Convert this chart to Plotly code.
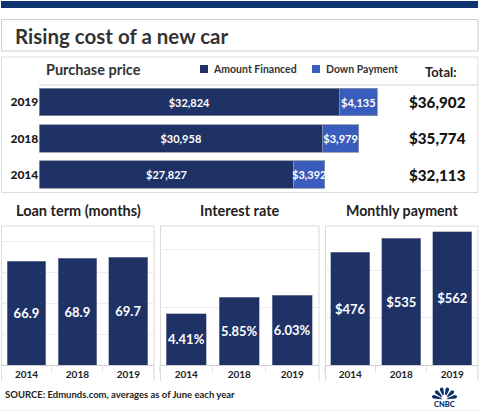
import math
import plotly.graph_objects as go

W, H = 480, 412

# ---------------- data ----------------
years_pp = ["2014", "2018", "2019"]
financed = [27827, 30958, 32824]
down = [3392, 3979, 4135]
totals = ["$32,113", "$35,774", "$36,902"]

years = ["2014", "2018", "2019"]
loan_term = [66.9, 68.9, 69.7]
interest = [4.41, 5.85, 6.03]
monthly = [476, 535, 562]

NAVY = "#1f3266"
BLUE = "#3a5cbd"
DARK = "#333333"
FONT = "Lato"


def X(px):
    return px / W


def Y(py):
    return 1 - py / H


fig = go.Figure()

# purchase price stacked horizontal bars
for vals, name, col in [(financed, "Amount Financed", NAVY), (down, "Down Payment", BLUE)]:
    fig.add_trace(go.Bar(
        y=years_pp, x=vals, orientation="h", name=name,
        marker=dict(color=col, line=dict(color="#8a93a8", width=0.8)),
        texttemplate="$%{x:,}", textposition="inside", insidetextanchor="middle",
        textangle=0, constraintext="none",
        textfont=dict(family=FONT, size=11, color="white", weight="bold"),
        xaxis="x", yaxis="y", showlegend=False, cliponaxis=False,
    ))

# bottom panels
panel_specs = [
    ("x2", "y2", loan_term, "%{y}"),
    ("x3", "y3", interest, "%{y:.2f}%"),
    ("x4", "y4", monthly, "$%{y}"),
]
for xa, ya, vals, tmpl in panel_specs:
    fig.add_trace(go.Bar(
        x=years, y=vals, marker=dict(color=NAVY, line=dict(color="#8a93a8", width=0.6)),
        texttemplate=tmpl, textposition="inside", insidetextanchor="middle",
        textangle=0, constraintext="none",
        textfont=dict(family=FONT, size=13, color="white", weight="bold"),
        xaxis=xa, yaxis=ya, showlegend=False, cliponaxis=False,
    ))

bot_ydom = [Y(365), Y(226)]
grid_c = "#ececec"

layout = dict(
    width=W, height=H, margin=dict(l=0, r=0, t=0, b=0),
    paper_bgcolor="white", plot_bgcolor="white",
    barmode="stack", bargap=0.24,
    font=dict(family=FONT, color=DARK),
    uniformtext=dict(minsize=10.5, mode="show"),
    xaxis=dict(domain=[X(39.3), X(39.3 + 0.009143 * 40000)], range=[0, 40000],
               visible=False, fixedrange=True),
    yaxis=dict(domain=[Y(192.6), Y(84)], type="category", range=[-0.5, 2.5],
               showgrid=False, zeroline=False, showline=False, ticks="",
               tickfont=dict(family=FONT, size=12, color="#1a1a1a", weight=900),
               fixedrange=True),
    xaxis2=dict(domain=[X(1), X(153.8)], anchor="y2"),
    xaxis3=dict(domain=[X(159.8), X(318.7)], anchor="y3"),
    xaxis4=dict(domain=[X(324.7), X(477.8)], anchor="y4"),
    yaxis2=dict(domain=bot_ydom, anchor="x2", range=[0, 89.8], dtick=20),
    yaxis3=dict(domain=bot_ydom, anchor="x3", range=[0, 12], dtick=5),
    yaxis4=dict(domain=bot_ydom, anchor="x4", range=[0, 587], dtick=200),
)
for k in ["xaxis2", "xaxis3", "xaxis4"]:
    layout[k].update(type="category", showline=True, linecolor="#cfcfcf", linewidth=1,
                     showgrid=False, ticks="outside", tickson="boundaries", ticklen=6,
                     tickcolor="#e2e2e2",
                     tickfont=dict(family=FONT, size=10, color="#222", weight="bold"),
                     fixedrange=True)
for k in ["yaxis2", "yaxis3", "yaxis4"]:
    layout[k].update(showgrid=True, gridcolor=grid_c, gridwidth=1, zeroline=False,
                     showticklabels=False, ticks="", fixedrange=True)
fig.update_layout(**layout)

shapes = []


def rect(x0, y0, x1, y1, **kw):
    shapes.append(dict(type="rect", xref="paper", yref="paper",
                       x0=X(x0), x1=X(x1), y0=Y(y1), y1=Y(y0), layer="below", **kw))


# top navy bar
rect(1, 1, 478, 8, fillcolor="#0d3470", line=dict(width=0))
# title box
rect(1.5, 19.5, 478, 51, fillcolor="rgba(0,0,0,0)", line=dict(color="#cfcfcf", width=1))
# purchase price box
rect(1.5, 57, 478, 192.5, fillcolor="rgba(0,0,0,0)", line=dict(color="#dcdcdc", width=1))
# separator line under header of purchase panel
shapes.append(dict(type="line", xref="paper", yref="paper", x0=X(39), x1=X(478),
                   y0=Y(85), y1=Y(85), line=dict(color="#e3e3e3", width=1.5), layer="below"))
# bottom panel boxes (open at the bottom)
for x0, x1 in [(1.5, 154), (160.5, 319), (325.5, 478)]:
    shapes.append(dict(type="path", xref="paper", yref="paper",
                       path=f"M {X(x0)},{Y(381)} L {X(x0)},{Y(226)} L {X(x1)},{Y(226)} L {X(x1)},{Y(381)}",
                       line=dict(color="#dadada", width=1), layer="below"))
# legend squares
rect(200, 65, 208, 73, fillcolor=NAVY, line=dict(width=0))
rect(312, 65, 320, 73, fillcolor=BLUE, line=dict(width=0))
# footer faint line
shapes.append(dict(type="line", xref="paper", yref="paper", x0=0, x1=1,
                   y0=Y(410.5), y1=Y(410.5), line=dict(color="#eeeeee", width=1)))

# CNBC peacock (fan of feathers)
cx, cy = 444.5, 399.5
n = 6
R = 13
for i in range(n):
    a0 = math.pi - i * math.pi / n - 0.09
    a1 = math.pi - (i + 1) * math.pi / n + 0.09
    pts = [(cx, cy)]
    for t in range(9):
        a = a0 + (a1 - a0) * t / 8
        r = R * (0.86 + 0.14 * math.sin(math.pi * t / 8))
        pts.append((cx + r * math.cos(a), cy - r * math.sin(a) * 0.95))
    path = "M " + " L ".join(f"{X(px)},{Y(py)}" for px, py in pts) + " Z"
    shapes.append(dict(type="path", xref="paper", yref="paper", path=path,
                       fillcolor="#0d2d6b", line=dict(width=0)))
shapes.append(dict(type="circle", xref="paper", yref="paper",
                   x0=X(cx - 3), x1=X(cx + 3), y0=Y(cy + 1), y1=Y(cy - 5),
                   fillcolor="white", line=dict(width=0)))

annotations = []


def txt(text, x, y, size, xanchor="left", color=DARK, weight="bold", yref="paper", yv=None):
    annotations.append(dict(text=text, x=X(x), y=Y(y) if yv is None else yv,
                            xref="paper", yref=yref, xanchor=xanchor, yanchor="middle",
                            showarrow=False,
                            font=dict(family=FONT, size=size, color=color, weight=weight)))


txt("Rising cost of a new car", 13, 36, 20.5, color="#333")
txt("Purchase price", 44, 69, 14.5, color="#333")
txt("Amount Financed", 211, 69.5, 10.5, color="#333")
txt("Down Payment", 324, 69.5, 10.5, color="#333")
txt("Total:", 423, 72, 13, color="#222")
for i, t in enumerate(totals):
    # category index on the category axis
    txt(t, 437.5, 0, 15.2, xanchor="center", color="#151515", yref="y", yv=i, weight=900)
txt("Loan term (months)", 78, 210, 14.5, xanchor="center", color="#222")
txt("Interest rate", 239.5, 210, 14.5, xanchor="center", color="#222")
txt("Monthly payment", 402, 210, 14.2, xanchor="center", color="#222")
txt("SOURCE: Edmunds.com, averages as of June each year", 3, 394, 9.5, color="#222")
txt("CNBC", 444.5, 404.5, 7.5, xanchor="center", color="#0d2d6b", weight=900)

fig.update_layout(shapes=shapes, annotations=annotations)
fig.write_html("out.html", config={"displayModeBar": False},
               post_script="document.body.style.margin='0';document.body.style.padding='0';")
